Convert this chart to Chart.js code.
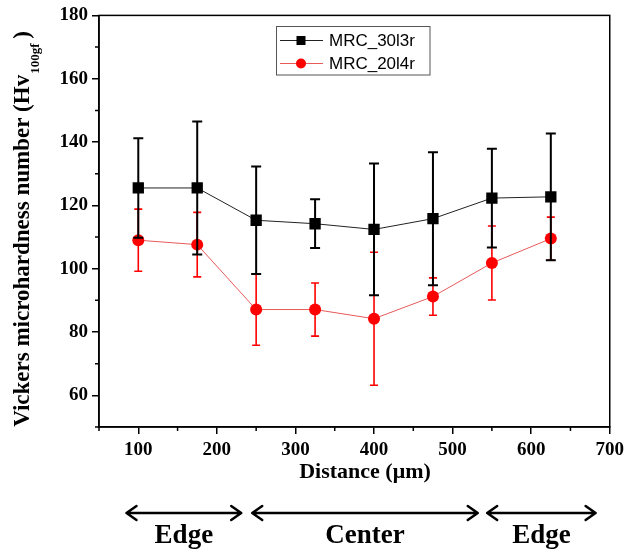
<!DOCTYPE html>
<html><head><meta charset="utf-8">
<script src="https://cdn.jsdelivr.net/npm/chart.js@4.4.1/dist/chart.umd.min.js"></script>
<style>html,body{margin:0;padding:0;background:#fff}#wrap{width:629px;height:552px}</style>
</head><body><div id="wrap"><canvas id="c" width="629" height="552"></canvas></div>
<script>
const distances = [100, 175, 250, 325, 400, 475, 550, 625];
const mrc30Values = [125.5, 125.5, 115.3, 114.2, 112.4, 115.8, 122.3, 122.7];
const mrc30Errors = [15.7, 21.0, 17.0, 7.7, 20.8, 21.0, 15.6, 20.0];
const mrc20Values = [109.0, 107.6, 87.1, 87.1, 84.2, 91.2, 101.8, 109.5];
const mrc20Errors = [9.8, 10.2, 11.3, 8.4, 21.0, 5.9, 11.7, 6.8];
const seriesLabels = ['MRC_30l3r', 'MRC_20l4r'];
const xTickLabels = [100, 200, 300, 400, 500, 600, 700];
const yTickLabels = [60, 80, 100, 120, 140, 160, 180];
const regionLabels = ['Edge', 'Center', 'Edge'];
const regionStarts = [85, 245, 544];
const regionEnds = [231, 532, 682];
const xTitle = 'Distance (\u03BCm)';
const yTitleMain = 'Vickers microhardness number (Hv';
const yTitleSub = '100gf';
const yTitleEnd = ' )';

const errorSets = [mrc30Errors, mrc20Errors];
const valueSets = [mrc30Values, mrc20Values];

const serif = '"Liberation Serif", "DejaVu Serif", serif';
const sans = '"Liberation Sans", Arial, sans-serif';

const decor = {
  id: 'decor',
  afterDatasetsDraw(chart) {
    const ctx = chart.ctx, xs = chart.scales.x, ys = chart.scales.y;
    const styles = [{c: '#000', w: 2, cap: 5}, {c: '#f00', w: 1.6, cap: 4}];
    [1, 0].forEach(d => {
      const st = styles[d];
      ctx.save();
      ctx.strokeStyle = st.c; ctx.lineWidth = st.w;
      distances.forEach((xv, i) => {
        const x = xs.getPixelForValue(xv);
        const yt = ys.getPixelForValue(valueSets[d][i] + errorSets[d][i]);
        const yb = ys.getPixelForValue(valueSets[d][i] - errorSets[d][i]);
        ctx.beginPath();
        ctx.moveTo(x, yt); ctx.lineTo(x, yb);
        ctx.moveTo(x - st.cap, yt); ctx.lineTo(x + st.cap, yt);
        ctx.moveTo(x - st.cap, yb); ctx.lineTo(x + st.cap, yb);
        ctx.stroke();
      });
      ctx.restore();
    });
  },
  afterDraw(chart) {
    const ctx = chart.ctx, a = chart.chartArea, xs = chart.scales.x, ys = chart.scales.y;
    ctx.save();
    // frame
    ctx.strokeStyle = '#000'; ctx.lineWidth = 1.5;
    ctx.strokeRect(a.left, a.top, a.right - a.left, a.bottom - a.top);

    // minor ticks (unlabelled ticks), shorter
    ctx.lineWidth = 1.5;
    ctx.beginPath();
    xs.ticks.forEach(t => {
      if (xTickLabels.includes(t.value)) return;
      const x = xs.getPixelForValue(t.value);
      ctx.moveTo(x, a.bottom); ctx.lineTo(x, a.bottom + 4);
    });
    ys.ticks.forEach(t => {
      if (yTickLabels.includes(t.value)) return;
      const y = ys.getPixelForValue(t.value);
      ctx.moveTo(a.left, y); ctx.lineTo(a.left - 4, y);
    });
    ctx.stroke();

    // legend
    ctx.lineWidth = 1; ctx.strokeStyle = '#555';
    ctx.strokeRect(276.5, 26.5, 153.5, 48.5);
    const rows = [{y: 40.5, c: '#000', line: '#222', shape: 'rect'}, {y: 63.5, c: '#f00', line: '#e85a5a', shape: 'circle'}];
    rows.forEach((r, i) => {
      ctx.strokeStyle = r.line; ctx.lineWidth = 1;
      ctx.beginPath(); ctx.moveTo(280, r.y); ctx.lineTo(323, r.y); ctx.stroke();
      ctx.fillStyle = r.c;
      if (r.shape === 'rect') ctx.fillRect(301 - 4.5, r.y - 4.5, 9, 9);
      else { ctx.beginPath(); ctx.arc(301, r.y, 5, 0, Math.PI * 2); ctx.fill(); }
      ctx.fillStyle = '#000';
      ctx.font = '17px ' + sans;
      ctx.textBaseline = 'middle'; ctx.textAlign = 'left';
      ctx.fillText(seriesLabels[i], 329, r.y + 1);
    });

    // x title
    ctx.fillStyle = '#000';
    ctx.font = 'bold 22px ' + serif;
    ctx.textAlign = 'center'; ctx.textBaseline = 'alphabetic';
    ctx.fillText(xTitle, 365, 478);

    // y title with subscript
    ctx.save();
    const mainFont = 'bold 23px ' + serif, subFont = 'bold 13px ' + serif;
    ctx.font = mainFont; const w1 = ctx.measureText(yTitleMain).width;
    const w3 = ctx.measureText(yTitleEnd).width;
    ctx.font = subFont; const w2 = ctx.measureText(yTitleSub).width;
    const total = w1 + w2 + w3;
    ctx.translate(29, 229);
    ctx.rotate(-Math.PI / 2);
    ctx.textAlign = 'left'; ctx.textBaseline = 'alphabetic';
    let x0 = -total / 2;
    ctx.font = mainFont; ctx.fillText(yTitleMain, x0, 0);
    ctx.font = subFont; ctx.fillText(yTitleSub, x0 + w1 + 1, 10);
    ctx.font = mainFont; ctx.fillText(yTitleEnd, x0 + w1 + w2, 0);
    ctx.restore();

    // region arrows and labels
    const ay = 513;
    ctx.strokeStyle = '#000'; ctx.lineWidth = 2.5; ctx.lineCap = 'round'; ctx.lineJoin = 'round';
    regionLabels.forEach((lab, i) => {
      const x1 = xs.getPixelForValue(regionStarts[i]);
      const x2 = xs.getPixelForValue(regionEnds[i]);
      ctx.beginPath();
      ctx.moveTo(x1, ay); ctx.lineTo(x2, ay);
      ctx.moveTo(x1 + 10, ay - 7); ctx.lineTo(x1, ay); ctx.lineTo(x1 + 10, ay + 7);
      ctx.moveTo(x2 - 10, ay - 7); ctx.lineTo(x2, ay); ctx.lineTo(x2 - 10, ay + 7);
      ctx.stroke();
      ctx.font = 'bold 27px ' + serif;
      ctx.textAlign = 'center'; ctx.textBaseline = 'alphabetic';
      ctx.fillText(lab, (x1 + x2) / 2, 543);
    });
    ctx.restore();
  }
};

const majorTickColor = list => c => (c.tick && list.includes(c.tick.value)) ? '#000' : 'rgba(0,0,0,0)';

new Chart(document.getElementById('c'), {
  type: 'line',
  data: {
    datasets: [
      {
        label: seriesLabels[0],
        data: distances.map((x, i) => ({x, y: mrc30Values[i]})),
        borderColor: '#222', borderWidth: 1,
        pointStyle: 'rect', pointRadius: 8,
        pointBackgroundColor: '#000', pointBorderColor: '#000', pointBorderWidth: 0
      },
      {
        label: seriesLabels[1],
        data: distances.map((x, i) => ({x, y: mrc20Values[i]})),
        borderColor: '#e85a5a', borderWidth: 1,
        pointStyle: 'circle', pointRadius: 6,
        pointBackgroundColor: '#f00', pointBorderColor: '#f00', pointBorderWidth: 0
      }
    ]
  },
  options: {
    responsive: false, animation: false, devicePixelRatio: 1,
    layout: {padding: {top: 15, right: 17, left: 0, bottom: 0}},
    plugins: {legend: {display: false}, tooltip: {enabled: false}},
    scales: {
      x: {
        type: 'linear', min: 50, max: 700,
        afterFit: s => { s.height = 125; },
        ticks: {stepSize: 50, autoSkip: false, maxRotation: 0, padding: 5, color: '#000',
          font: {family: serif, size: 19, weight: 'bold'},
          callback: v => xTickLabels.includes(v) ? String(v) : ''},
        grid: {drawOnChartArea: false, drawTicks: true, tickLength: 7, color: '#000', lineWidth: 1.5,
          tickColor: majorTickColor(xTickLabels)},
        border: {display: true, color: '#000', width: 1.5}
      },
      y: {
        type: 'linear', min: 50, max: 180,
        afterFit: s => { s.width = 99; },
        ticks: {stepSize: 10, autoSkip: false, padding: 4, color: '#000',
          font: {family: serif, size: 19, weight: 'bold'},
          callback: v => yTickLabels.includes(v) ? String(v) : ''},
        grid: {drawOnChartArea: false, drawTicks: true, tickLength: 7, color: '#000', lineWidth: 1.5,
          tickColor: majorTickColor(yTickLabels)},
        border: {display: true, color: '#000', width: 1.5}
      }
    }
  },
  plugins: [decor]
});
</script>
</body></html>
